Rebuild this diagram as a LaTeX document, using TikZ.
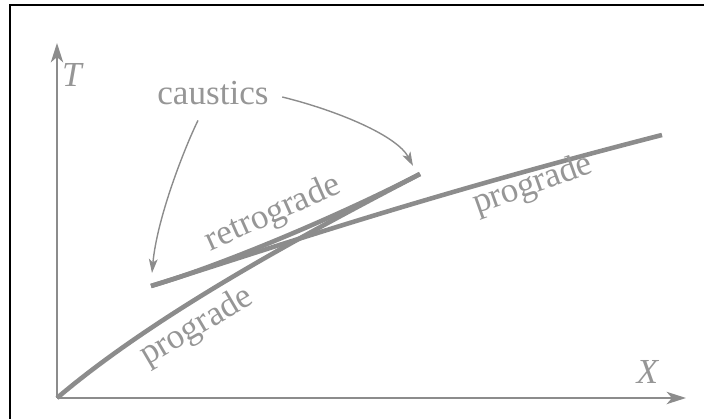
\documentclass[tikz,border=0pt]{standalone}
\usepackage{fontspec}
\setmainfont{Liberation Serif}
\usetikzlibrary{arrows.meta}
\definecolor{tinta}{RGB}{140,140,140}
\definecolor{gristexto}{RGB}{150,150,150}

\begin{document}
\begin{tikzpicture}[
        eje/.style={
            -{Stealth[length=11pt,width=7pt,inset=3pt]},
            draw=tinta,
            line width=1.2pt
        },
        rama/.style={draw=tinta, line width=2.6pt, line join=round},
        flecha/.style={-{Stealth[length=8pt,width=5pt,inset=2pt]}, draw=tinta, line width=0.8pt},
        rotulo/.style={text=gristexto, font=\fontsize{20}{24}\selectfont, inner sep=1pt}
    ]
        \useasboundingbox (-1.14,-0.42) rectangle (12.94,7.96);

        % marco del escaneo
        \draw[line width=1pt] (12.94,7.86) -- (-0.94,7.86) -- (-0.94,-0.42);

        % ejes
        \coordinate (O) at (0,0);
        \coordinate (topeT) at (0,7.1);
        \coordinate (topeX) at (12.58,0);
        \draw[eje] (O) -- (topeT);
        \draw[eje] (O) -- (topeX);
        \node[rotulo] (ejeT) at (0.32,6.46) {\textit{T}};
        \node[rotulo] (ejeX) at (11.82,0.52) {\textit{X}};

        % cuspides
        \coordinate (cuspB) at (7.26,4.48);
        \coordinate (cuspC) at (1.88,2.24);
        \coordinate (finX) at (12.1,5.26);

        % ramas
        \draw[rama] (O) .. controls (2.0,1.7) and (5.0,3.3) .. (cuspB);
        \draw[rama] (cuspB) .. controls (5.6,3.62) and (3.2,2.62) .. (cuspC);
        \draw[rama] (cuspC) .. controls (4.0,2.9) and (7.0,3.95) .. (finX);

        % rotulos
        \node[rotulo, rotate=24] (retro) at (4.32,3.68) {retrograde};
        \node[rotulo, rotate=30.5] (progA) at (2.8,1.42) {prograde};
        \node[rotulo, rotate=19.7] (progB) at (9.52,4.26) {prograde};
        \node[rotulo] (caus) at (3.12,6.1) {caustics};

        \draw[flecha] ([shift={(-0.3,-0.27)}]caus.south)
            .. controls (2.55,5.0) and (2.0,3.6) .. ([shift={(0.02,0.26)}]cuspC);
        \draw[flecha] ([shift={(0.23,-0.08)}]caus.east)
            .. controls (5.6,5.75) and (6.8,5.25) .. ([shift={(-0.14,0.16)}]cuspB);
    \end{tikzpicture}
\end{document}
